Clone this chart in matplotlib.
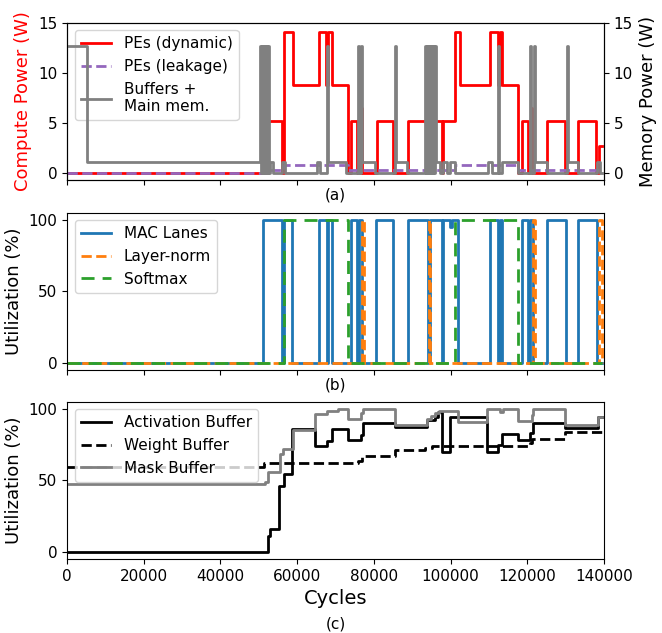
import numpy as np
import matplotlib.pyplot as plt

plt.rcParams['font.size'] = 11

# (a) compute power, step changes: cycle -> watts
dyn_t = [0, 50760, 55970, 56700, 59000, 65780, 67600, 67990, 69010, 73180, 74040, 75530, 76520, 76780,
         80740, 85070, 88820, 94190, 94630, 97680, 98100, 101150, 102450, 110280,
         112440, 112880, 113330,
         117660, 118540, 120260, 121080, 121340, 125060, 129830, 133300, 137910, 138770, 139600]
dyn_w = [0, 5.2, 0, 14.1, 8.8, 14.1, 8.8, 14.1, 8.8, 0, 5.2, 0, 6.5, 0,
         5.2, 0, 5.2, 0, 5.2, 0, 5.2, 14.1, 8.8, 14.1,
         8.8, 14.1, 8.8,
         0, 5.2, 0, 6.5, 0, 5.2, 0, 5.2, 0, 2.7, 2.7]

leak_t = [0, 50760, 56700, 73180, 101150, 117660, 139600]
leak_w = [0, 0.3, 0.85, 0.3, 0.85, 0.3, 0.3]

# buffers + main memory power
mem_t = [0, 5140,
         50310, 50570, 50830, 51090, 51350, 51610, 51870, 52130, 52390, 52650,
         52920, 53700, 56050, 56830, 65100, 65960, 67700, 67960, 72740,
         75940, 76200, 76650, 76910, 80300, 85510, 85770, 88560,
         93330, 93590, 93850, 94110, 94370, 94630, 94890, 95150, 95410, 95670, 95930,
         96200, 97240, 98030, 99070, 99850, 101150, 109760, 110800,
         112440, 112700, 113410, 117580, 120700, 120960, 121740, 122010,
         125060, 130270, 130530, 133300, 138090, 138950, 139600]
mem_w = [12.7, 1.1,
         12.7, 0, 12.7, 0, 12.7, 0, 12.7, 0, 12.7, 0,
         1.1, 0, 1.1, 0, 1.1, 0, 12.7, 1.1, 0,
         12.7, 0, 12.7, 1.1, 0, 12.7, 1.1, 0,
         12.7, 0, 12.7, 0, 12.7, 0, 12.7, 0, 12.7, 0, 12.7,
         1.1, 0, 1.1, 0, 1.1, 0, 1.1, 0,
         12.7, 0, 1.1, 0, 12.7, 0, 12.7, 1.1,
         0, 12.7, 1.1, 0, 1.1, 0, 0]

# (b) unit utilization (%)
mac_t = [0, 50970, 55970, 56570, 58740, 65780, 67700, 68170, 69010, 74040, 75530, 76130, 76830,
         80560, 85070, 88820, 94190, 94630, 97680, 98100, 99980, 100370, 102010, 110280, 112440,
         112880, 113330, 118540, 120260, 120830, 121560, 125060, 130090, 133300, 138090, 139600]
mac_u = [0, 100, 0, 100, 0, 100, 0, 100, 0, 100, 0, 100, 0,
         100, 0, 100, 0, 100, 0, 100, 95, 100, 0, 100, 0,
         100, 0, 100, 0, 100, 0, 100, 0, 100, 0, 0]

ln_t = [0, 76910, 77300, 94370, 94760, 121610, 122010, 138800, 139500, 139600]
ln_u = [0, 100, 0, 100, 0, 100, 0, 100, 0, 0]

sm_t = [0, 56700, 73180, 101150, 117660, 139600]
sm_u = [0, 100, 0, 100, 0, 0]

# (c) buffer utilization (%)
act_t = [0, 52320, 52920, 55270, 56650, 58740, 64650, 67700, 69010, 73180, 76650, 77250, 85510,
         93770, 95940, 96800, 97680, 99800, 109400, 112440, 113330, 117660, 120700, 121560, 129830, 138520, 139600]
act_u = [0, 11, 15.7, 45.8, 54.4, 85.8, 74, 77.8, 85.8, 78, 81.7, 90, 87,
         92, 94, 97.5, 69.6, 94.2, 69.6, 74.8, 82.4, 78.3, 83.1, 90.1, 86.6, 94, 94]

wt_t = [0, 51360, 75940, 76830, 85510, 93330, 95160, 120700, 121300, 129830, 139600]
wt_u = [59.5, 62.2, 63.7, 67, 71, 72.6, 73.8, 76, 78.7, 83.5, 83.5]

mask_t = [0, 51620, 52480, 55530, 56390, 59000, 64650, 67700, 70730, 73180, 76650, 77250, 85510,
          93770, 95000, 95940, 97000, 102010, 109400, 112880, 113750, 117660, 121150, 121560, 129830, 138520, 139600]
mask_u = [47.5, 49, 56, 68.5, 72, 85.5, 96.5, 98.5, 100, 93, 97, 100, 89,
          93, 95, 97, 98.8, 90.5, 100, 98, 100, 91.3, 96, 100, 89, 94, 94]

fig = plt.figure(figsize=(6.62, 6.33), dpi=100)
ax1 = fig.add_axes([0.1012, 0.7156, 0.8112, 0.2485])
ax2 = fig.add_axes([0.1012, 0.4155, 0.8112, 0.2485])
ax3 = fig.add_axes([0.1012, 0.1169, 0.8112, 0.2485])

# (a)
l1, = ax1.step(dyn_t, dyn_w, where='post', color='red', lw=2, label='PEs (dynamic)')
l2, = ax1.step(leak_t, leak_w, where='post', color='tab:purple', lw=2, ls='--', label='PEs (leakage)')
ax1r = ax1.twinx()
l3, = ax1r.step(mem_t, mem_w, where='post', color='gray', lw=2, label='Buffers +\nMain mem.')
ax1.set_ylim(-0.68, 15.05)
ax1r.set_ylim(-0.68, 15.05)
ax1.set_yticks([0, 5, 10, 15])
ax1r.set_yticks([0, 5, 10, 15])
ax1.set_ylabel('Compute Power (W)', color='red', fontsize=13)
ax1r.set_ylabel('Memory Power (W)', fontsize=13)
ax1.legend(handles=[l1, l2, l3], loc='upper left')

# (b)
ax2.step(mac_t, mac_u, where='post', color='tab:blue', lw=2, label='MAC Lanes')
ax2.step(ln_t, ln_u, where='post', color='tab:orange', lw=2, ls='--', label='Layer-norm')
ax2.step(sm_t, sm_u, where='post', color='tab:green', lw=2, ls=(0, (4.7, 2.9)), label='Softmax')
ax2.set_ylabel('Utilization (%)', fontsize=13)
ax2.legend(loc='upper left')

# (c)
ax3.step(act_t, act_u, where='post', color='black', lw=2, label='Activation Buffer')
ax3.step(wt_t, wt_u, where='post', color='black', lw=2, ls='--', label='Weight Buffer')
ax3.step(mask_t, mask_u, where='post', color='gray', lw=2, label='Mask Buffer')
ax3.set_ylabel('Utilization (%)', fontsize=13)
ax3.set_xlabel('Cycles', fontsize=14)
ax3.legend(loc='upper left')

for ax in [ax1, ax2, ax3]:
    ax.set_xlim(0, 140000)
    ax.set_xticks(np.arange(0, 140001, 20000))
for ax in [ax2, ax3]:
    ax.set_ylim(-5, 105)
    ax.set_yticks([0, 50, 100])
ax1.tick_params(labelbottom=False)
ax2.tick_params(labelbottom=False)

ax1.text(0.5, -0.095, '(a)', transform=ax1.transAxes, ha='center', va='center')
ax2.text(0.5, -0.095, '(b)', transform=ax2.transAxes, ha='center', va='center')
ax3.text(0.5, -0.413, '(c)', transform=ax3.transAxes, ha='center', va='center')

plt.savefig('out.png', dpi=100)
